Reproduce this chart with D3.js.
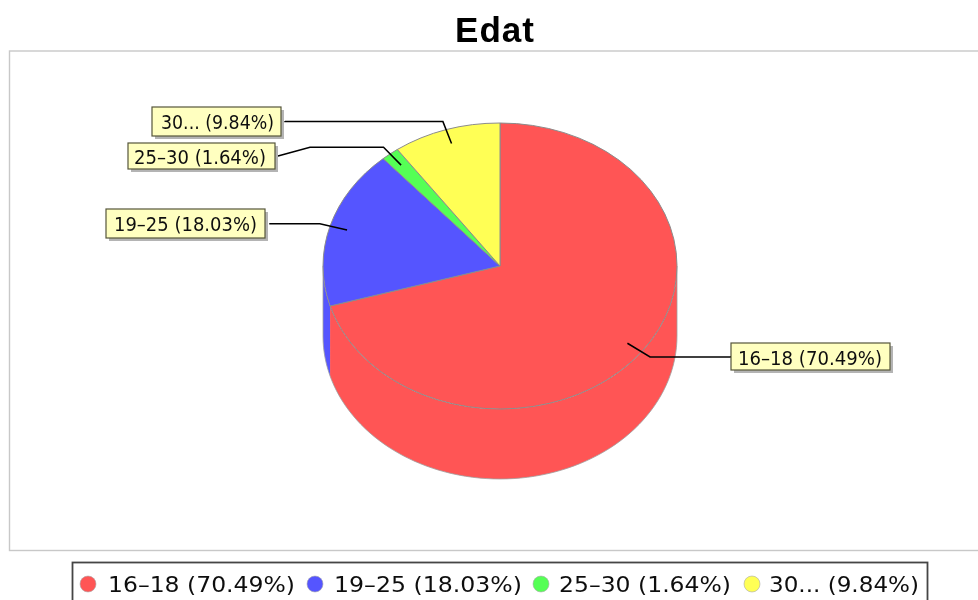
<!DOCTYPE html>
<html>
<head>
<meta charset="utf-8">
<style>
  html, body { margin: 0; padding: 0; background: #fff; overflow: hidden; }
  text { font-family: "DejaVu Sans", sans-serif; fill: #111; }
</style>
<script src="https://cdn.jsdelivr.net/npm/d3@7"></script>
</head>
<body>
<script>
var categories = ['16-18', '19-25', '25-30', '30...']
var shares = [70.49, 18.03, 1.64, 9.84]
var colors = ['#ff5555', '#5555ff', '#55ff55', '#ffff55']
var legendNames = ['16\u201318', '19\u201325', '25\u201330', '30...']

// label boxes and text extents
var boxX = [731, 106, 128, 152]
var boxY = [343, 209, 143, 107]
var boxW = [159, 159, 147, 129]
var boxH = [27, 29, 26, 29]
var textX = [738, 114, 134, 161]
var textW = [144, 143, 132, 113]
var baseY = [365, 231, 164, 129]
var forkX = [731, 270, 310, 285]
var endX = [731, 270, 278, 285]
var endY = [356, 223, 156, 121]

var legendDot = [88, 315, 541, 752]
var legendText = [108, 334, 559, 769]
var legendLen = [187, 188, 172, 150]

var width = 978, height = 600
var cx = 500, cy = 266, rx = 177, ry = 143, depth = 70

var svg = d3.select('body').append('svg')
  .attr('width', width)
  .attr('height', height)
  .style('display', 'block')

var soft = svg.append('defs').append('filter').attr('id', 'soft')
soft.append('feGaussianBlur').attr('stdDeviation', 0.45)

var root = svg.append('g').attr('filter', 'url(#soft)')

root.append('text')
  .attr('x', 455)
  .attr('y', 42)
  .attr('textLength', 79)
  .style('font-family', '"Liberation Sans", sans-serif')
  .style('font-weight', 'bold')
  .style('font-size', '35px')
  .style('fill', '#000')
  .text('Edat')

// plot frame, runs off the right side
root.append('rect')
  .attr('x', 9.5)
  .attr('y', 51)
  .attr('width', 985)
  .attr('height', 499.5)
  .attr('fill', '#fff')
  .attr('stroke', '#c8c8c8')
  .attr('stroke-width', 1.4)

var pie = d3.pie().sort(null).value(function (d) { return d })
var slices = pie(shares)

// unit circle -> squashed ellipse
var px = d3.scaleLinear().domain([-1, 1]).range([cx - rx, cx + rx])
var py = d3.scaleLinear().domain([-1, 1]).range([cy - ry, cy + ry])
function ptX (a, r) { return px(Math.sin(a) * r) }
function ptY (a, r) { return py(-Math.cos(a) * r) }

// side walls, only the front half of the rim shows
var front = [Math.PI / 2, Math.PI * 3 / 2]
var wall = d3.line()
function rimAngles (a0, a1) {
  return d3.range(81).map(function (i) { return a0 + (a1 - a0) * i / 80 })
}
slices.forEach(function (s) {
  var a0 = Math.max(s.startAngle, front[0])
  var a1 = Math.min(s.endAngle, front[1])
  if (a1 <= a0) return
  var rim = rimAngles(a0, a1)
  var pts = rim.map(function (a) { return [ptX(a, 1), ptY(a, 1)] })
    .concat(rim.slice().reverse().map(function (a) { return [ptX(a, 1), ptY(a, 1) + depth] }))
  root.append('path')
    .attr('d', wall(pts) + 'Z')
    .attr('fill', colors[s.index])
})

// soft grey edge round the outside of the wall
var outer = rimAngles(front[0], front[1]).map(function (a) { return [ptX(a, 1), ptY(a, 1) + depth] })
outer.unshift([ptX(front[0], 1), ptY(front[0], 1)])
outer.push([ptX(front[1], 1), ptY(front[1], 1)])
root.append('path')
  .attr('d', wall(outer))
  .attr('fill', 'none')
  .attr('stroke', '#a0a0a0')
  .attr('stroke-width', 0.8)

// top face
var arc = d3.arc().innerRadius(0).outerRadius(1)
root.append('g')
  .attr('transform', 'translate(' + cx + ',' + cy + ') scale(' + rx + ',' + ry + ')')
  .selectAll('path')
  .data(slices)
  .enter()
  .append('path')
  .attr('d', arc)
  .attr('fill', function (d) { return colors[d.index] })
  .attr('stroke', '#8c8c8c')
  .attr('stroke-width', 1)
  .attr('vector-effect', 'non-scaling-stroke')

// leader lines
var link = d3.line()
slices.forEach(function (s, i) {
  var mid = (s.startAngle + s.endAngle) / 2
  root.append('path')
    .attr('d', link([
      [ptX(mid, 0.9), ptY(mid, 0.9)],
      [ptX(mid, 1.06), ptY(mid, 1.06)],
      [forkX[i], ptY(mid, 1.06)],
      [endX[i], endY[i]]
    ]))
    .attr('fill', 'none')
    .attr('stroke', '#000')
    .attr('stroke-width', 1.5)
})

// label boxes
var labels = root.selectAll('g.label')
  .data(categories)
  .enter()
  .append('g')
  .classed('label', true)

labels.append('rect')
  .attr('x', function (d, i) { return boxX[i] + 3 })
  .attr('y', function (d, i) { return boxY[i] + 3 })
  .attr('width', function (d, i) { return boxW[i] })
  .attr('height', function (d, i) { return boxH[i] })
  .attr('fill', '#b4b4b4')

labels.append('rect')
  .attr('x', function (d, i) { return boxX[i] })
  .attr('y', function (d, i) { return boxY[i] })
  .attr('width', function (d, i) { return boxW[i] })
  .attr('height', function (d, i) { return boxH[i] })
  .attr('fill', '#ffffc0')
  .attr('stroke', '#55553a')
  .attr('stroke-width', 1.2)

labels.append('text')
  .attr('x', function (d, i) { return textX[i] })
  .attr('y', function (d, i) { return baseY[i] })
  .attr('textLength', function (d, i) { return textW[i] })
  .attr('lengthAdjust', 'spacingAndGlyphs')
  .style('font-size', '20px')
  .text(function (d, i) { return legendNames[i] + ' (' + shares[i].toFixed(2) + '%)' })

// legend, its bottom edge falls off the page
root.append('rect')
  .attr('x', 72.5)
  .attr('y', 562.5)
  .attr('width', 855)
  .attr('height', 50)
  .attr('fill', '#fff')
  .attr('stroke', '#444')
  .attr('stroke-width', 1.8)

var items = root.selectAll('g.item')
  .data(categories)
  .enter()
  .append('g')
  .classed('item', true)

items.append('circle')
  .attr('cx', function (d, i) { return legendDot[i] })
  .attr('cy', 584)
  .attr('r', 8)
  .attr('fill', function (d, i) { return colors[i] })
  .attr('stroke', '#aaa')
  .attr('stroke-width', 0.6)

items.append('text')
  .attr('x', function (d, i) { return legendText[i] })
  .attr('y', 592)
  .attr('textLength', function (d, i) { return legendLen[i] })
  .attr('lengthAdjust', 'spacingAndGlyphs')
  .style('font-size', '22px')
  .text(function (d, i) { return legendNames[i] + ' (' + shares[i].toFixed(2) + '%)' })
</script>
</body>
</html>
